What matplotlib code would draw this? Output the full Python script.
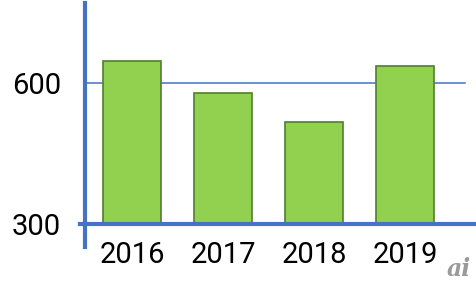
import matplotlib
matplotlib.use('Agg')
import matplotlib.pyplot as plt

# values
years = ['2016', '2017', '2018', '2019']
values = [647, 578, 517, 635]
yticks = [300, 600]

plt.rcParams['font.family'] = ['Roboto', 'DejaVu Sans']

blue = '#4472C4'
fig = plt.figure(figsize=(4.77, 2.87), dpi=100)
ax = fig.add_axes([84.7 / 477, 63 / 287, 390.3 / 477, 221 / 287])

x = range(len(years))
ax.bar(x, values, width=0.64, bottom=0, color='#92D050', edgecolor='#4F7F2E',
       linewidth=1.2, zorder=3)
ax.set_xlim(-0.52, 3.77)
ax.set_ylim(300, 770)

# guide at 600
ax.axhline(600, xmin=0.007, xmax=0.974, color=blue, lw=1.1, zorder=2)

# hand-drawn style axes
for s in ax.spines.values():
    s.set_visible(False)
ax.plot([-0.52, -0.52], [251, 770], color=blue, lw=3, clip_on=False, zorder=4)
ax.plot([-0.575, 3.77], [300, 300], color=blue, lw=3, clip_on=False, zorder=4)

ax.set_xticks(list(x))
ax.set_xticklabels(years)
ax.set_yticks(yticks)
ax.set_yticklabels([str(t) for t in yticks])
ax.tick_params(axis='x', length=0, pad=12, labelsize=21)
ax.tick_params(axis='y', length=0, pad=17, labelsize=21)

# watermark
fig.text(459 / 477, 1 - 269 / 287, 'ai', color='#9a9a9a', fontsize=17,
         style='italic', fontweight='bold', ha='center', va='center',
         family='DejaVu Serif')

fig.savefig('out.png', dpi=100)
